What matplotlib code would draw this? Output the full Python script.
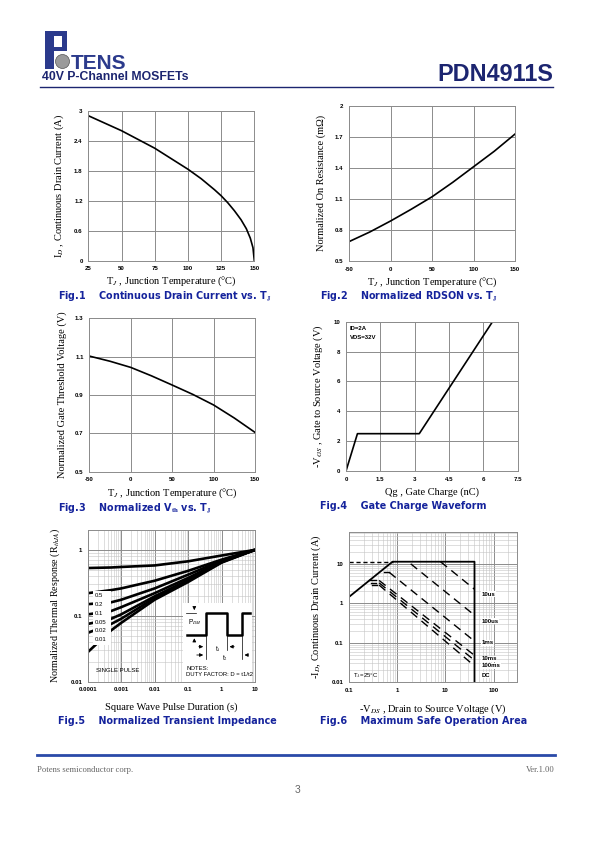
import numpy as np
import matplotlib
matplotlib.use('Agg')
import matplotlib.pyplot as plt
from matplotlib.patches import Rectangle, Circle

plt.rcParams['mathtext.fontset'] = 'stix'
plt.rcParams['font.family'] = ['Liberation Sans', 'DejaVu Sans']
plt.rcParams['axes.unicode_minus'] = False

W, H = 595, 842
NAVY = '#1c2570'
CAP = '#15239c'
GRID = '#8c8c8c'
SERIF = ['Liberation Serif', 'DejaVu Serif']

# ---- data ----
# Fig.1 continuous drain current vs Tj
f1_temp = [25, 50, 75, 100, 110, 120, 125, 130, 135, 140, 144, 147, 149, 150]
f1_id = [2.9, 2.6, 2.25, 1.83, 1.64, 1.42, 1.30, 1.16, 1.00, 0.82, 0.64, 0.45, 0.26, 0.0]

# Fig.2 normalized Rdson vs Tj
f2_temp = [-50, -25, 0, 25, 50, 75, 100, 125, 150]
f2_rds = [0.687, 0.78, 0.886, 1.0, 1.12, 1.26, 1.41, 1.56, 1.726]

# Fig.3 normalized Vth vs Tj
f3_temp = [-50, -25, 0, 25, 50, 75, 100, 125, 150]
f3_vth = [1.103, 1.076, 1.044, 1.0, 0.952, 0.903, 0.848, 0.78, 0.705]

# Fig.4 gate charge
f4_qg = [0, 0.5, 3.2, 6.4]
f4_vgs = [0, 2.5, 2.5, 10]

# Fig.5 transient thermal impedance
f5_t = [1e-4, 5e-4, 1e-3, 1e-2, 1e-1, 1, 10]
f5_curves = [
    [0.53, 0.54, 0.55, 0.58, 0.67, 0.82, 1.0],
    [0.22, 0.245, 0.26, 0.34, 0.48, 0.71, 1.0],
    [0.15, 0.16, 0.175, 0.26, 0.42, 0.69, 1.0],
    [0.105, 0.118, 0.135, 0.22, 0.375, 0.67, 1.0],
    [0.075, 0.09, 0.105, 0.197, 0.35, 0.66, 1.0],
    [0.055, 0.075, 0.09, 0.186, 0.34, 0.65, 1.0],
    [0.028, 0.06, 0.078, 0.175, 0.325, 0.64, 1.0],
]
f5_duty = ['0.5', '0.2', '0.1', '0.05', '0.02', '0.01']
f5_duty_y = [0.201, 0.147, 0.107, 0.079, 0.059, 0.043]

# Fig.6 safe operating area
f6_lim_v = [0.1, 0.8, 40, 40]
f6_lim_i = [1.45, 11.3, 11.3, 0.01]
f6_names = ['10us', '100us', '1ms', '10ms', '100ms', 'DC']
f6_start_v = [7.9, 1.9, 0.68, 0.42, 0.42, 0.42]
f6_start_i = [11.3, 10.0, 6.1, 3.8, 3.3, 2.9]
f6_end_i = [2.27, 0.5, 0.11, 0.048, 0.036, 0.026]
f6_label_y = [1.7, 0.355, 0.1, 0.039, 0.026, 0.015]
f6_knee_v0 = [None, None, 0.52, 0.26, 0.28, 0.30]
f6_knee_v1 = [None, None, 0.66, 0.36, 0.37, 0.38]

fig = plt.figure(figsize=(W / 100, H / 100), dpi=100)


def panel(x0, y0, x1, y1):
    return fig.add_axes([x0 / W, 1 - y1 / H, (x1 - x0) / W, (y1 - y0) / H])


def style(ax):
    ax.grid(True, which='major', color=GRID, lw=0.7)
    for s in ax.spines.values():
        s.set_color(GRID)
        s.set_linewidth(0.7)
    ax.tick_params(which='both', length=0, labelsize=4.4, pad=4)
    for lab in ax.get_xticklabels() + ax.get_yticklabels():
        lab.set_fontweight('bold')
    ax.set_axisbelow(True)


def caption(x, y, s):
    fig.text(x / W, 1 - y / H, s, color=CAP, fontsize=6.9, fontweight='bold',
             family='DejaVu Sans', va='center', ha='left')


TJ_LABEL = r'T$_J$ , Junction Temperature (°C)'

# ---- Fig.1 ----
ax1 = panel(88.3, 110.7, 254.3, 260.7)
ax1.plot(f1_temp, f1_id, color='black', lw=1.2)
ax1.set_xlim(25, 150)
ax1.set_ylim(0, 3)
ax1.set_xticks([25, 50, 75, 100, 125, 150])
ax1.set_yticks([0, 0.6, 1.2, 1.8, 2.4, 3])
ax1.set_yticklabels(['0', '0.6', '1.2', '1.8', '2.4', '3'])
style(ax1)
ax1.set_xlabel(TJ_LABEL, family=SERIF, fontsize=7.5, labelpad=2)
ax1.set_ylabel(r'I$_D$ , Continuous Drain Current (A)', family=SERIF, fontsize=7.5, labelpad=6)
caption(58, 296, r'Fig.1    Continuous Drain Current vs. T$_{\mathbf{J}}$')

# ---- Fig.2 ----
ax2 = panel(349, 105.7, 515, 261)
ax2.plot(f2_temp, f2_rds, color='black', lw=1.2)
ax2.set_xlim(-50, 150)
ax2.set_ylim(0.5, 2)
ax2.set_xticks([-50, 0, 50, 100, 150])
ax2.set_yticks([0.5, 0.8, 1.1, 1.4, 1.7, 2])
ax2.set_yticklabels(['0.5', '0.8', '1.1', '1.4', '1.7', '2'])
style(ax2)
ax2.set_xlabel(TJ_LABEL, family=SERIF, fontsize=7.5, labelpad=3)
ax2.set_ylabel('Normalized On Resistance (mΩ)', family=SERIF, fontsize=7.5, labelpad=6)
caption(320, 296, r'Fig.2    Normalized RDSON vs. T$_{\mathbf{J}}$')

# ---- Fig.3 ----
ax3 = panel(89.3, 318.3, 255, 471.7)
ax3.plot(f3_temp, f3_vth, color='black', lw=1.2)
ax3.set_xlim(-50, 150)
ax3.set_ylim(0.5, 1.3)
ax3.set_xticks([-50, 0, 50, 100, 150])
ax3.set_yticks([0.5, 0.7, 0.9, 1.1, 1.3])
style(ax3)
ax3.set_xlabel(TJ_LABEL, family=SERIF, fontsize=7.5, labelpad=3)
ax3.set_ylabel('Normalized Gate Threshold Voltage (V)', family=SERIF, fontsize=7.5, labelpad=6)
caption(58, 508, r'Fig.3    Normalized V$_{\mathbf{th}}$ vs. T$_{\mathbf{J}}$')

# ---- Fig.4 ----
ax4 = panel(346, 321.7, 517.7, 471)
ax4.plot(f4_qg, f4_vgs, color='black', lw=1.2)
ax4.set_xlim(0, 7.5)
ax4.set_ylim(0, 10)
ax4.set_xticks([0, 1.5, 3, 4.5, 6, 7.5])
ax4.set_xticklabels(['0', '1.5', '3', '4.5', '6', '7.5'])
ax4.set_yticks([0, 2, 4, 6, 8, 10])
style(ax4)
ax4.text(0.18, 9.55, 'ID=2A', fontsize=4.3, fontweight='bold', va='center')
ax4.text(0.18, 8.95, 'VDS=32V', fontsize=4.3, fontweight='bold', va='center')
ax4.set_xlabel(r'Qg , Gate Charge (nC)', family=SERIF, fontsize=7.5, labelpad=4)
ax4.set_ylabel(r'-V$_{GS}$ , Gate to Source Voltage (V)', family=SERIF, fontsize=7.5, labelpad=6)
caption(320, 506, 'Fig.4    Gate Charge Waveform')

# ---- Fig.5 ----
ax5 = panel(87.7, 530, 255, 681.7)
for c in f5_curves:
    ax5.plot(f5_t, c, color='black', lw=1.9, solid_capstyle='butt')
ax5.set_xscale('log')
ax5.set_yscale('log')
ax5.set_xlim(1e-4, 10)
ax5.set_ylim(0.01, 2)
ax5.set_xticks([1e-4, 1e-3, 1e-2, 1e-1, 1, 10])
ax5.set_xticklabels(['0.0001', '0.001', '0.01', '0.1', '1', '10'])
ax5.set_yticks([0.01, 0.1, 1])
ax5.set_yticklabels(['0.01', '0.1', '1'])
style(ax5)
ax5.grid(True, which='minor', color='#c4c4c4', lw=0.4)
ax5.tick_params(which='minor', labelleft=False, labelbottom=False)
ax5.add_patch(Rectangle((1.45e-4, 0.036), 4.9e-4 - 1.45e-4, 0.235 - 0.036,
                        facecolor='white', edgecolor='none', zorder=3))
for lab, yv in zip(f5_duty, f5_duty_y):
    ax5.text(1.66e-4, yv, lab, fontsize=4.3, va='center', zorder=4)
ax5.text(1.8e-4, 0.0148, 'SINGLE PULSE', fontsize=4.3, va='center', zorder=4)
ax5.set_xlabel('Square Wave Pulse Duration (s)', family=SERIF, fontsize=7.5, labelpad=7)
ax5.set_ylabel(r'Normalized Thermal Response (R$_{thJA}$)', family=SERIF, fontsize=7.2, labelpad=6)
caption(58, 721, 'Fig.5    Normalized Transient Impedance')

# inset waveform sketch (page pixel coords)
ins = panel(183.3, 603.3, 251.7, 681.7)
ins.set_xlim(183.3, 251.7)
ins.set_ylim(681.7, 603.3)
ins.axis('off')
ins.add_patch(Rectangle((183.3, 603.3), 68.4, 78.4, facecolor='white', edgecolor='none'))
pulse_x = [186.7, 206, 206, 226.7, 226.7, 241.7, 241.7, 250]
pulse_y = [635, 635, 613.3, 613.3, 635, 635, 613.3, 613.3]
ins.plot(pulse_x, pulse_y, color='black', lw=1.8)
arr = dict(arrowstyle='-|>', color='black', lw=0.6, mutation_scale=5)
ins.plot([186, 196], [613.3, 613.3], color='black', lw=0.5)
ins.annotate('', xy=(194.3, 613), xytext=(194.3, 605), arrowprops=arr)
ins.annotate('', xy=(194.3, 635.5), xytext=(194.3, 643), arrowprops=arr)
ins.plot([206, 206], [636, 659], color='black', lw=0.5)
ins.plot([226.7, 226.7], [636, 650], color='black', lw=0.5)
ins.plot([241.7, 241.7], [636, 659], color='black', lw=0.5)
ins.annotate('', xy=(206, 646.7), xytext=(196, 646.7), arrowprops=arr)
ins.annotate('', xy=(226.7, 646.7), xytext=(237, 646.7), arrowprops=arr)
ins.annotate('', xy=(206, 655), xytext=(194, 655), arrowprops=arr)
ins.annotate('', xy=(241.7, 655), xytext=(251, 655), arrowprops=arr)
ins.text(188, 622, r'P$_{DM}$', fontsize=4.8, va='center')
ins.text(215, 649.5, r't$_1$', fontsize=4.8, va='center')
ins.text(222, 658.5, r't$_2$', fontsize=4.8, va='center')
ins.text(186.2, 668.3, 'NOTES:', fontsize=4.3, va='center')
ins.text(186.2, 675, 'DUTY FACTOR: D = t1/t2', fontsize=4.2, va='center')

# ---- Fig.6 ----
ax6 = panel(349, 531.7, 516.7, 682.3)
ax6.set_xscale('log')
ax6.set_yscale('log')
ax6.plot(f6_lim_v, f6_lim_i, color='black', lw=1.3)
ax6.plot([0.1, 0.8], [11.3, 11.3], color='black', lw=1.0, dashes=(3, 2))
for i, name in enumerate(f6_names):
    ax6.plot([f6_start_v[i], 40], [f6_start_i[i], f6_end_i[i]], color='black',
             lw=1.0, dashes=(6, 4))
    if f6_knee_v0[i] is not None:
        ax6.plot([f6_knee_v0[i], f6_knee_v1[i]], [f6_start_i[i], f6_start_i[i]],
                 color='black', lw=1.0)
    ax6.text(56, f6_label_y[i], name, fontsize=4.3, fontweight='bold', va='center',
             bbox=dict(facecolor='white', edgecolor='none', pad=0.3))
ax6.text(0.12, 0.0148, r'T$_A$=25°C', fontsize=4.3, va='center')
ax6.set_xlim(0.1, 300)
ax6.set_ylim(0.01, 65)
ax6.set_xticks([0.1, 1, 10, 100])
ax6.set_xticklabels(['0.1', '1', '10', '100'])
ax6.set_yticks([0.01, 0.1, 1, 10])
ax6.set_yticklabels(['0.01', '0.1', '1', '10'])
style(ax6)
ax6.grid(True, which='minor', color='#c4c4c4', lw=0.4)
ax6.tick_params(which='minor', labelleft=False, labelbottom=False)
ax6.set_xlabel(r'-V$_{DS}$ , Drain to Source Voltage (V)', family=SERIF, fontsize=7.5, labelpad=7)
ax6.set_ylabel(r'-I$_D$, Continuous Drain Current (A)', family=SERIF, fontsize=7.5, labelpad=6)
caption(320, 721, 'Fig.6    Maximum Safe Operation Area')

# ---- page header / footer ----
page = fig.add_axes([0, 0, 1, 1], zorder=-1)
page.set_xlim(0, W)
page.set_ylim(H, 0)
page.axis('off')
LOGO = '#2b3a8c'
page.add_patch(Rectangle((45, 31), 9, 38, facecolor=LOGO, edgecolor='none'))
page.add_patch(Rectangle((54, 31), 12, 5, facecolor=LOGO, edgecolor='none'))
page.add_patch(Rectangle((62, 31), 5, 20, facecolor=LOGO, edgecolor='none'))
page.add_patch(Rectangle((54, 47), 12, 4, facecolor=LOGO, edgecolor='none'))
page.add_patch(Circle((62.5, 61.5), 7, facecolor='#9a9a9a', edgecolor='#555555', lw=0.5))
page.text(70.5, 68.8, 'TENS', fontsize=15, color=LOGO, fontweight='bold',
          family=['DejaVu Sans Condensed', 'Liberation Sans'], va='baseline')
page.text(42, 80.5, '40V P-Channel MOSFETs', fontsize=8.8, color=NAVY, fontweight='bold',
          va='baseline')
page.text(553, 81, 'PDN4911S', fontsize=16.8, color=NAVY, fontweight='bold',
          ha='right', va='baseline')
page.plot([40, 553], [86.5, 86.5], color=NAVY, lw=1.0)
page.plot([37, 555], [755, 755], color='#2a4aa8', lw=2.0)
page.text(37, 770, 'Potens semiconductor corp.', fontsize=6.2, color='#666666',
          family=SERIF, va='center')
page.text(555, 770, 'Ver.1.00', fontsize=6.2, color='#666666', family=SERIF,
          ha='right', va='center')
page.text(297.5, 790, '3', fontsize=7.5, color='#666666', ha='center', va='center')

fig.savefig('out.png', dpi=100)
